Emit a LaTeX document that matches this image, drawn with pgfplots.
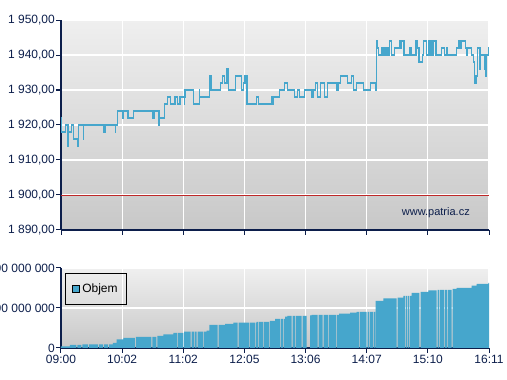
\documentclass[border=0pt]{standalone}
\usepackage{pgfplots}
\pgfplotsset{compat=1.18}
\usepackage{fontspec}
\setmainfont{Liberation Sans}
\definecolor{navy}{RGB}{12,30,75}
\definecolor{lineblue}{RGB}{70,166,204}
\definecolor{refred}{RGB}{190,40,40}
\definecolor{bgtop}{RGB}{239,239,239}
\definecolor{bgbot}{RGB}{200,200,200}
\pgfplotsset{
  common/.style={
    scale only axis, width=428pt, anchor=south west,
    xmin=0, xmax=428,
    xtick={0,61.14,122.29,183.43,244.57,305.71,366.86,428},
    axis x line*=bottom, axis y line*=left,
    axis line style={-, draw=navy, line width=1.2pt},
    tick align=outside, major tick length=5pt,
    major tick style={draw=navy, line width=1pt},
    grid=major, major grid style={white, line width=1.2pt},
    axis background/.style={shade, top color=bgtop, bottom color=bgbot},
    tick label style={font=\fontsize{12}{14}\selectfont, text=navy},
    yticklabel style={inner xsep=1pt},
    xticklabel style={inner ysep=2pt},
    /pgf/number format/assume math mode=true,
  }
}
\begin{document}
\begin{tikzpicture}
\useasboundingbox (0pt,0pt) rectangle (507pt,380pt);
% ---------- price ----------
\begin{axis}[common, at={(61pt,150pt)}, height=210pt,
  ymin=1890, ymax=1950,
  ytick={1890,1900,1910,1920,1930,1940,1950},
  yticklabels={{1 890,00},{1 900,00},{1 910,00},{1 920,00},{1 930,00},{1 940,00},{1 950,00}},
  xticklabels={},
]
\addplot[refred, line width=0.9pt] coordinates {(0,1900) (428,1900)};
\addplot[const plot, lineblue, line width=1.2pt] coordinates {
(0,1922) (0.7,1918) (4.3,1920) (7,1914) (7.5,1918) (10.3,1920) (12.3,1916) (17,1914)
(17.7,1920) (22.3,1916) (22.8,1920) (43,1918) (44.7,1920) (54.3,1918) (54.8,1920)
(56.3,1924) (61.3,1922) (62.7,1924) (67,1922) (72.7,1924) (92,1922) (93.7,1924)
(98,1920) (98.5,1922) (103.3,1926) (106.3,1928) (109.7,1926) (114,1928) (116.3,1926)
(119,1928) (123.3,1926) (123.8,1928) (124,1930) (132.3,1926) (138.3,1930) (138.8,1928)
(148.3,1934) (148.8,1930) (149.5,1934) (150,1930) (159.7,1932) (161.7,1934) (163.3,1932)
(166,1936) (167.3,1930) (174.3,1934) (180.3,1930) (182.3,1932) (184,1934) (186,1926)
(195.7,1928) (197.3,1926) (210.5,1928) (211.5,1926) (212.7,1928) (218.3,1930)
(223.3,1932) (226.3,1930) (233.3,1928) (236.3,1930) (238.3,1928) (243.3,1930)
(250.3,1928) (252,1930) (254.3,1932) (256.7,1928) (259.3,1932) (263.3,1928)
(266.7,1932) (276,1930) (277.7,1932) (279.5,1934) (286.5,1932) (290.7,1934)
(292.3,1930) (295.7,1932) (302.3,1930) (309.7,1932) (315,1930)
(315.3,1944) (316.5,1942) (317.3,1940) (320.7,1942) (321.7,1940) (323,1942)
(324.3,1940) (325.7,1942) (327,1940) (328.3,1944) (330.7,1940) (333.3,1942)
(338.3,1944) (340,1942) (340.7,1944) (343,1940) (349,1942) (350.7,1940)
(355,1944) (356.7,1942) (358,1938) (361.3,1940) (362.7,1944) (365.7,1940)
(367.3,1944) (369,1940) (370.7,1944) (372,1940) (372.7,1944) (375,1940)
(380.7,1942) (383.3,1940) (386,1942) (386.7,1940) (395.7,1942) (397.3,1944)
(399,1942) (400.5,1944) (404.7,1942) (405.5,1940) (406.3,1942) (410.7,1940)
(412.3,1938) (413.3,1932) (415,1934) (416.3,1942) (419,1936) (419.3,1940)
(423.3,1938) (424,1936) (424.5,1940) (425,1934) (425.3,1940) (427.3,1942) (428,1942)
};
\node[anchor=base east, font=\fontsize{11}{13}\selectfont, text=navy] at (rel axis cs:0.9633,0.0667) {www.patria.cz};
\end{axis}
% ---------- volume ----------
\begin{axis}[common, at={(61pt,32pt)}, height=80pt,
  ymin=0, ymax=200,
  ytick={0,100,200},
  yticklabels={0,100 000 000,200 000 000},
  xticklabels={09:00,10:02,11:02,12:05,13:06,14:07,15:10,16:11},
  legend style={at={(0.0093,0.9375)}, anchor=north west, draw=black, line width=1pt,
    fill=none, inner xsep=7pt, inner ysep=8.5pt,
    font=\fontsize{12}{14}\selectfont, text=black},
  legend image code/.code={\draw[fill=lineblue, draw=black, line width=0.8pt] (0pt,-3.5pt) rectangle (7pt,3.5pt);},
]
\addplot[const plot, fill=lineblue, draw=none] coordinates {
(0,4.25) (9,7.5) (15.5,0) (16.3,7.5) (20.5,0) (21.3,9.25) (27,0) (27.8,9.25)
(37,0) (37.8,9.25) (42,0) (42.8,9.25) (47,0) (47.8,9.25) (52,12.5) (55.7,21.75)
(62.3,25) (74,0) (74.8,27.5) (90.5,0) (91.3,27.5) (95.5,0) (96.3,30) (102.3,34.25)
(112.3,37.5) (116.3,0) (117.1,37.5) (122.3,0) (123.1,40.75) (129.7,0) (130.5,40.75)
(133.3,0) (134.1,40.75) (135.7,0) (136.5,40.75) (142.3,0) (143.1,40.75) (145.7,43.25)
(148.3,57.5) (156.7,0) (157.5,57.5) (164,60) (172.3,63.25) (176.7,0) (177.5,63.25)
(188.3,0) (189.1,63.25) (194,0) (194.8,63.25) (195.7,65) (197.3,0) (198.1,65)
(202.3,0) (203.1,65) (208,0) (208.8,67.5) (214,72.5) (219,0) (219.8,72.5)
(222,0) (222.8,72.5) (224,78.25) (226.3,80) (230.7,0) (231.5,80) (234,0) (234.8,80)
(240.7,0) (241.5,80) (245.5,0) (249,81.75) (250.7,82.5) (256.7,0) (257.5,82.5)
(261.7,0) (262.5,82.5) (267.3,0) (268.1,82.5) (275,0) (275.8,82.5) (278,85.75)
(289,88.25) (295.7,90) (298.3,0) (299.1,90) (305.7,0) (306.5,90) (308,0) (308.8,90)
(312.3,0) (313.1,90) (314,0) (314.7,117.5) (322.3,124.25) (335.7,0) (336.7,125.75)
(342.3,130) (344,0) (344.8,130) (346.3,0) (347.1,130) (348,0) (348.8,130)
(350.7,137.5) (358.3,0) (359.7,140) (367.3,144.25) (375.7,0) (376.5,145)
(378.3,0) (379.1,145) (383,0) (383.8,145) (386.3,0) (387.1,145) (390.7,0)
(391.5,147.5) (395.7,150) (410.7,155.75) (415.7,160) (427.3,162.5) (428,162.5)
} \closedcycle;
\addlegendentry{Objem}
\end{axis}
\end{tikzpicture}
\end{document}
